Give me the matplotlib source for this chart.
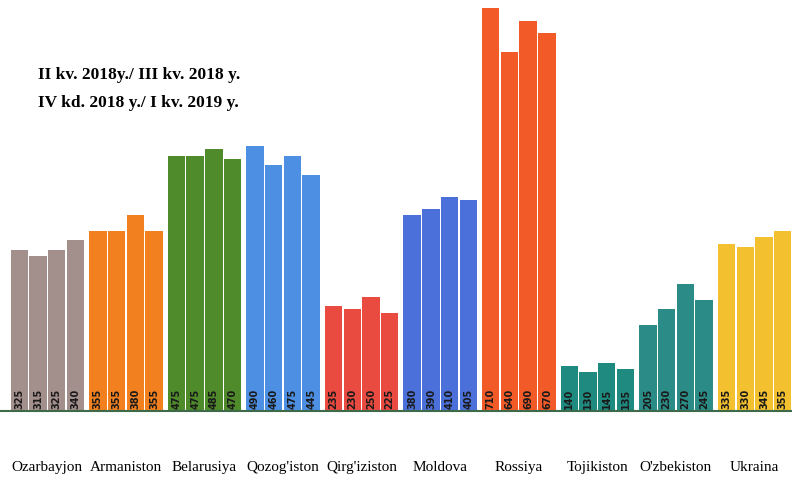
import matplotlib.pyplot as plt

countries = ["Ozarbayjon", "Armaniston", "Belarusiya", "Qozog'iston", "Qirg'iziston",
             "Moldova", "Rossiya", "Tojikiston", "O'zbekiston", "Ukraina"]
# four quarters per country: II kv. 2018, III kv. 2018, IV kv. 2018, I kv. 2019
values = [
    [325, 315, 325, 340],
    [355, 355, 380, 355],
    [475, 475, 485, 470],
    [490, 460, 475, 445],
    [235, 230, 250, 225],
    [380, 390, 410, 405],
    [710, 640, 690, 670],
    [140, 130, 145, 135],
    [205, 230, 270, 245],
    [335, 330, 345, 355],
]
colors = ["#a38f8c", "#f2801f", "#4f8a2b", "#4d8fe3", "#e94b40",
          "#4c70da", "#f25a27", "#1f8a7f", "#2b8b86", "#f3c02f"]

fig = plt.figure(figsize=(7.92, 4.81), dpi=100)
ax = fig.add_axes([0, 0.1435, 1, 0.8565])

step = 4.2
ymin = 68
for g, (vals, c) in enumerate(zip(values, colors)):
    for j, v in enumerate(vals):
        x = g * step + j
        ax.bar(x, v - ymin, bottom=ymin, width=0.93, color=c, edgecolor="none")
        ax.text(x, ymin + 4, str(v), rotation=90, ha="center", va="bottom",
                fontsize=7, fontweight="bold", color="#1a1a1a")

ax.set_xlim(-1.03, 9 * step + 3.5)
ax.set_ylim(ymin, 725)
ax.set_xticks([g * step + 1.5 for g in range(len(countries))])
ax.set_xticklabels(countries, family="Liberation Serif", fontsize=11)
ax.tick_params(axis="x", length=0, pad=35)
ax.set_yticks([])
for s in ["top", "right", "left"]:
    ax.spines[s].set_visible(False)
ax.spines["bottom"].set_color("#3d6b4a")
ax.spines["bottom"].set_linewidth(1.5)

fig.text(38 / 792, 1 - 75 / 481, "II kv. 2018y./ III kv. 2018 y.", family="Liberation Serif",
         fontsize=12.5, fontweight="bold", va="center")
fig.text(38 / 792, 1 - 103 / 481, "IV kd. 2018 y./ I kv. 2019 y.", family="Liberation Serif",
         fontsize=12.5, fontweight="bold", va="center")

fig.savefig("out.png", dpi=100)
